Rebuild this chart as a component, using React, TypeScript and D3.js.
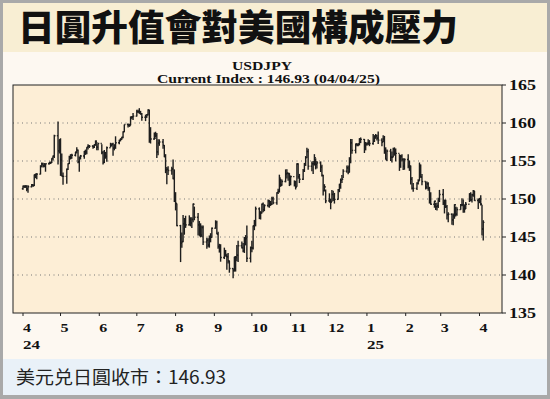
import * as d3 from 'd3';

// USDJPY daily bars, Apr 1 2024 - Apr 4 2025 (one row = one week, Mon..Fri)
const highs = [
  151.77, 151.8, 151.82, 151.78, 151.8,
  151.96, 151.94, 153.24, 153.32, 153.39,
  154.44, 154.79, 154.76, 154.71, 154.65,
  154.85, 154.88, 155.37, 155.74, 158.44,
  160.21, 157.8, 157.99, 156.0, 153.5,
  154.0, 154.7, 155.7, 155.9, 155.95,
  156.2, 156.8, 156.5, 155.6, 155.8,
  156.3, 156.5, 156.8, 157.2, 157.1,
  157.1, 157.2, 157.7, 157.5, 157.3,
  157.2, 156.3, 156.45, 156.2, 156.9,
  157.4, 157.35, 157.4, 157.2, 158.25,
  157.8, 158.0, 158.2, 158.9, 159.8,
  159.95, 159.9, 160.85, 160.9, 161.3,
  161.75, 161.75, 161.95, 161.6, 161.3,
  161.1, 161.2, 161.8, 161.75, 159.45,
  158.75, 158.85, 158.7, 157.85, 157.85,
  157.9, 157.1, 155.9, 154.2, 154.3,
  154.25, 155.2, 153.9, 150.9, 149.4,
  146.6, 145.6, 147.9, 147.5, 147.8,
  147.85, 147.6, 147.6, 149.4, 149.0,
  148.15, 147.1, 146.8, 146.5, 146.5,
  144.9, 144.85, 145.2, 145.5, 146.25,
  147.2, 147.15, 145.7, 144.1, 144.05,
  143.6, 143.3, 142.8, 142.9, 141.9,
  140.9, 142.4, 142.5, 143.95, 144.5,
  144.4, 144.2, 145.0, 145.25, 146.5,
  143.75, 144.5, 146.5, 147.25, 149.0,
  148.9, 148.4, 149.4, 149.55, 149.3,
  149.95, 149.85, 149.75, 150.3, 150.3,
  150.9, 151.35, 153.2, 152.65, 152.55,
  153.9, 153.9, 153.4, 153.4, 153.1,
  152.45, 152.4, 154.7, 154.7, 153.3,
  153.95, 154.75, 155.65, 156.75, 156.6,
  154.95, 155.0, 155.9, 155.35, 155.0,
  154.95, 154.5, 153.2, 151.95, 151.25,
  150.75, 150.05, 151.2, 151.1, 150.8,
  151.3, 152.0, 152.7, 153.15, 153.9,
  154.4, 154.4, 155.5, 157.9, 157.9,
  157.3, 157.35, 157.35, 158.0, 158.1,
  157.9, 157.5, 157.45, 157.85, 157.75,
  158.55, 158.4, 158.55, 158.45, 158.87,
  158.0, 158.4, 158.3, 156.8, 156.5,
  156.6, 156.25, 156.75, 156.8, 156.65,
  155.9, 155.8, 155.9, 155.35, 155.35,
  155.9, 155.05, 154.4, 152.9, 152.1,
  152.2, 152.6, 154.8, 154.55, 153.3,
  152.3, 152.3, 152.2, 151.6, 150.9,
  149.75, 149.5, 149.5, 150.15, 151.2,
  151.3, 149.9, 149.9, 149.2, 148.25,
  148.1, 148.1, 149.3, 149.0, 148.9,
  149.35, 150.1, 149.95, 149.3, 149.6,
  150.75, 150.9, 150.7, 151.2, 151.05,
  150.05, 150.15, 150.5, 149.25, 147.2,
];

const lows = [
  151.22, 151.5, 151.47, 151.03, 150.81,
  151.56, 151.6, 151.7, 152.74, 152.59,
  153.23, 154.23, 154.14, 154.19, 153.59,
  154.53, 154.6, 154.75, 155.06, 155.38,
  154.54, 156.0, 153.04, 152.99, 151.86,
  152.0, 153.8, 154.6, 155.2, 155.3,
  155.6, 156.0, 154.7, 153.6, 155.2,
  155.3, 155.8, 155.9, 156.5, 156.7,
  156.6, 156.7, 157.0, 156.4, 156.4,
  155.9, 154.55, 154.75, 155.3, 154.9,
  156.8, 156.9, 155.7, 156.4, 156.6,
  157.2, 157.6, 157.8, 158.0, 158.8,
  159.4, 159.5, 159.7, 160.5, 160.4,
  160.85, 161.3, 161.2, 161.1, 160.3,
  160.25, 160.7, 161.0, 157.4, 157.3,
  157.8, 158.1, 155.4, 155.75, 157.0,
  156.6, 155.5, 153.4, 151.95, 153.15,
  153.2, 152.6, 149.6, 148.5, 146.4,
  141.7, 143.6, 144.3, 145.3, 146.2,
  146.5, 146.4, 146.2, 146.95, 147.2,
  145.2, 145.2, 144.95, 145.0, 143.95,
  143.45, 143.65, 143.6, 144.3, 144.9,
  146.1, 145.35, 143.45, 142.95, 141.75,
  142.1, 142.45, 140.7, 141.5, 140.3,
  139.58, 140.45, 140.45, 141.8, 141.7,
  143.5, 143.0, 142.9, 143.9, 141.7,
  141.65, 143.0, 143.35, 145.9, 146.4,
  147.35, 147.3, 148.1, 148.25, 148.4,
  148.9, 148.85, 149.1, 149.2, 149.3,
  149.25, 150.65, 150.85, 151.6, 151.75,
  152.2, 152.7, 152.4, 151.7, 151.8,
  151.65, 151.25, 151.6, 152.65, 152.1,
  152.5, 153.55, 154.35, 155.4, 153.85,
  153.65, 153.3, 154.4, 153.9, 154.0,
  153.55, 152.95, 150.45, 151.0, 149.45,
  149.6, 148.65, 149.65, 149.75, 149.4,
  149.9, 150.9, 151.35, 152.1, 152.75,
  153.45, 153.25, 153.5, 154.7, 155.95,
  156.0, 156.95, 156.95, 157.05, 157.35,
  156.05, 156.4, 157.0, 157.1, 156.95,
  157.15, 157.5, 157.95, 157.7, 157.25,
  156.95, 157.5, 155.95, 155.2, 155.0,
  155.0, 154.8, 155.5, 155.7, 154.95,
  153.7, 154.1, 154.95, 153.8, 153.85,
  154.05, 153.7, 151.9, 151.25, 150.95,
  151.2, 151.9, 152.4, 152.8, 151.8,
  151.25, 151.3, 151.1, 149.4, 149.25,
  148.85, 148.55, 148.5, 148.8, 149.6,
  149.2, 148.1, 148.8, 147.3, 146.95,
  146.6, 146.55, 147.4, 147.7, 147.8,
  148.6, 149.05, 148.2, 148.2, 148.7,
  149.6, 149.7, 149.55, 150.3, 149.75,
  148.7, 149.45, 149.15, 145.2, 144.55,
];

const closes = [
  151.64, 151.56, 151.68, 151.33, 151.62,
  151.85, 151.77, 153.16, 153.27, 153.27,
  154.27, 154.62, 154.38, 154.62, 154.63,
  154.8, 154.8, 155.34, 155.62, 158.33,
  156.33, 157.79, 155.1, 153.0, 152.98,
  153.9, 154.65, 155.55, 155.45, 155.75,
  156.2, 156.4, 154.9, 155.4, 155.65,
  156.25, 156.2, 156.8, 156.95, 156.95,
  156.85, 157.15, 157.6, 156.8, 157.3,
  156.1, 154.8, 156.1, 155.6, 156.75,
  157.05, 157.2, 156.7, 157.05, 157.4,
  157.7, 157.85, 158.1, 158.85, 159.8,
  159.7, 159.65, 160.75, 160.8, 160.9,
  161.5, 161.5, 161.5, 161.2, 160.75,
  160.8, 161.1, 161.7, 158.9, 157.9,
  158.0, 158.35, 156.2, 157.35, 157.5,
  157.05, 155.6, 153.85, 153.9, 153.75,
  153.95, 152.7, 150.0, 149.4, 146.5,
  144.2, 144.4, 146.75, 147.3, 146.6,
  147.2, 146.85, 147.3, 149.3, 147.6,
  146.6, 145.2, 145.25, 146.25, 144.35,
  144.55, 143.95, 144.6, 144.95, 146.15,
  146.9, 145.4, 143.75, 143.45, 142.3,
  143.1, 142.5, 142.4, 141.85, 140.85,
  140.6, 142.35, 142.3, 142.6, 143.85,
  143.6, 143.2, 144.75, 144.8, 142.2,
  143.6, 143.55, 146.45, 146.9, 148.7,
  148.2, 148.2, 149.3, 148.6, 149.15,
  149.75, 149.2, 149.3, 150.05, 149.5,
  150.85, 151.0, 152.75, 151.85, 152.3,
  153.3, 153.4, 153.35, 152.0, 152.95,
  152.1, 151.6, 154.6, 152.95, 152.6,
  153.7, 154.6, 155.45, 156.25, 154.3,
  154.65, 154.65, 155.45, 154.55, 154.75,
  154.2, 153.1, 151.1, 151.6, 149.75,
  149.6, 149.6, 150.6, 150.05, 149.95,
  151.2, 151.9, 152.45, 152.6, 153.65,
  154.1, 153.5, 154.9, 157.4, 156.4,
  157.2, 157.1, 157.2, 157.9, 157.85,
  156.95, 157.2, 157.3, 157.4, 157.3,
  157.6, 158.05, 158.3, 158.0, 157.75,
  157.5, 157.9, 156.5, 155.2, 156.3,
  155.5, 155.5, 156.55, 156.05, 156.0,
  154.6, 155.6, 155.2, 154.3, 155.2,
  154.3, 154.3, 152.6, 151.4, 151.4,
  152.05, 152.4, 154.4, 152.9, 152.3,
  151.55, 152.0, 151.4, 149.9, 149.3,
  149.7, 149.0, 149.1, 149.85, 150.6,
  149.5, 149.8, 149.0, 147.95, 148.0,
  147.25, 147.8, 149.25, 148.0, 148.6,
  149.25, 149.25, 148.7, 148.7, 149.3,
  150.7, 149.9, 150.55, 151.05, 149.8,
  149.9, 149.65, 149.3, 146.05, 146.93,
];

const firstOpen = 151.35;
const yTicks = [135, 140, 145, 150, 155, 160, 165];
const gridTicks = [140, 145, 150, 155, 160];
const monthLabels = ['4', '5', '6', '7', '8', '9', '10', '11', '12', '1', '2', '3', '4'];
const yearLabels: Record<number, string> = { 0: '24', 9: '25' };

const title = '日圓升值會對美國構成壓力';
const chartName = 'USDJPY';
const chartSub = 'Current Index : 146.93 (04/04/25)';
const footer = '美元兑日圓收市：146.93';

// trading days: weekdays from the first bar onward
const tradingDays: Date[] = [];
for (let d = new Date(2024, 3, 1); tradingDays.length < highs.length; d = d3.timeDay.offset(d, 1)) {
  if (d.getDay() !== 0 && d.getDay() !== 6) tradingDays.push(d);
}

const serif = '"Liberation Serif", "Times New Roman", serif';
const cjk = '"Noto Sans CJK TC", "Noto Sans CJK SC", sans-serif';

export default function App() {
  const left = 13, right = 502, top = 85, bottom = 313;

  const x = d3.scaleTime()
    .domain([new Date(2024, 2, 24), new Date(2025, 3, 19)])
    .range([left, right]);
  const y = d3.scaleLinear().domain([135, 165]).range([bottom, top]);

  const months = d3.timeMonth.range(new Date(2024, 3, 1), new Date(2025, 3, 2));

  return (
    <svg width={550} height={399} style={{ position: 'absolute', left: 0, top: 0, display: 'block' }}>
      <rect width={550} height={399} fill="#a9a9a9" />
      <rect x={3} y={3} width={544} height={392} fill="#fdf8f1" />
      <rect x={3} y={3} width={544} height={49} fill="#f8eed3" />
      <rect x={3} y={359} width={544} height={36} fill="#e9f1f8" />

      <text x={18} y={41} fontFamily={cjk} fontWeight={900} fontSize={36} textLength={440}
        lengthAdjust="spacingAndGlyphs" fill="#111">{title}</text>

      <text x={262} y={70} textAnchor="middle" fontFamily={serif} fontWeight="bold" fontSize={11.5}
        textLength={60} lengthAdjust="spacingAndGlyphs" fill="#111">{chartName}</text>
      <text x={268.5} y={82.5} textAnchor="middle" fontFamily={serif} fontWeight="bold" fontSize={11.5}
        textLength={223} lengthAdjust="spacingAndGlyphs" fill="#111">{chartSub}</text>

      <rect x={left} y={top} width={right - left} height={bottom - top} fill="#fdeed6" />

      {gridTicks.map(t => (
        <line key={t} x1={left} x2={right} y1={y(t)} y2={y(t)} stroke="#777" strokeWidth={1}
          strokeDasharray="1 3.5" />
      ))}

      <g stroke="#1e1e1e" strokeWidth={1.4}>
        {tradingDays.map((d, i) => {
          const cx = x(d);
          const open = i === 0 ? firstOpen : closes[i - 1];
          return (
            <g key={i}>
              <line x1={cx} x2={cx} y1={y(highs[i])} y2={y(lows[i])} />
              <line x1={cx - 1.2} x2={cx} y1={y(open)} y2={y(open)} />
              <line x1={cx} x2={cx + 1.2} y1={y(closes[i])} y2={y(closes[i])} />
            </g>
          );
        })}
      </g>

      <rect x={left} y={top} width={right - left} height={bottom - top} fill="none" stroke="#222" strokeWidth={1} />

      {yTicks.map(t => (
        <g key={t}>
          <line x1={right} x2={right + 4} y1={y(t)} y2={y(t)} stroke="#222" />
          <text x={509} y={y(t) + 4.5} fontFamily={serif} fontWeight="bold" fontSize={14}
            textLength={27} lengthAdjust="spacingAndGlyphs" fill="#111">{t}</text>
        </g>
      ))}

      {months.map((m, i) => (
        <g key={i}>
          <line x1={x(m)} x2={x(m)} y1={bottom} y2={bottom + 3} stroke="#222" />
          <text x={x(m)} y={332} fontFamily={serif} fontWeight="bold" fontSize={13}
            textLength={monthLabels[i].length * 8} lengthAdjust="spacingAndGlyphs" fill="#111">{monthLabels[i]}</text>
          {yearLabels[i] && (
            <text x={x(m)} y={349} fontFamily={serif} fontWeight="bold" fontSize={13}
              textLength={17} lengthAdjust="spacingAndGlyphs" fill="#111">{yearLabels[i]}</text>
          )}
        </g>
      ))}

      <text x={16} y={384} fontFamily={cjk} fontSize={18} textLength={210}
        lengthAdjust="spacingAndGlyphs" fill="#222">{footer}</text>
    </svg>
  );
}
